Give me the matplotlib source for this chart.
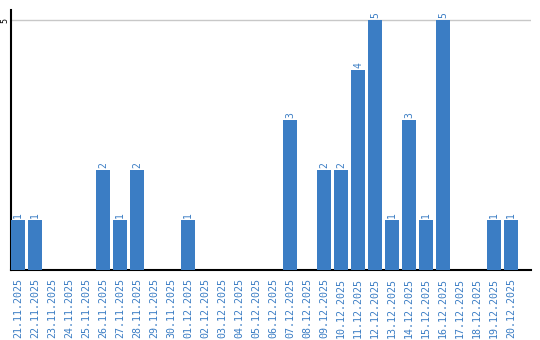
import matplotlib
matplotlib.use("Agg")
import matplotlib.pyplot as plt

dates = ["21.11.2025", "22.11.2025", "23.11.2025", "24.11.2025", "25.11.2025",
         "26.11.2025", "27.11.2025", "28.11.2025", "29.11.2025", "30.11.2025",
         "01.12.2025", "02.12.2025", "03.12.2025", "04.12.2025", "05.12.2025",
         "06.12.2025", "07.12.2025", "08.12.2025", "09.12.2025", "10.12.2025",
         "11.12.2025", "12.12.2025", "13.12.2025", "14.12.2025", "15.12.2025",
         "16.12.2025", "17.12.2025", "18.12.2025", "19.12.2025", "20.12.2025"]
values = [1, 1, 0, 0, 0, 2, 1, 2, 0, 0, 1, 0, 0, 0, 0, 0, 3, 0, 2, 2, 4, 5, 1, 3, 1, 5, 0, 0, 1, 1]

blue = "#3b7dc4"
fig = plt.figure(figsize=(5.4, 3.4), dpi=100)
ax = fig.add_axes([11/540, 70/340, 520/540, 260/340])
x = list(range(len(values)))
w = 14/17
ax.bar(x, values, width=w, align="edge", color=blue, zorder=3)
for xi, v in zip(x, values):
    if v > 0:
        ax.text(xi + w/2, v + 0.04, str(v), rotation=90, ha="center", va="bottom",
                color=blue, fontsize=7, family="DejaVu Sans Mono")
ax.set_xlim(0, 520/17)
ax.set_ylim(0, 5.2)
ax.set_yticks([5])
ax.set_yticklabels(["5"], rotation=90, va="center", fontsize=6, family="DejaVu Sans Mono")
ax.tick_params(axis="y", length=0, pad=1)
ax.yaxis.grid(True, color="#c8c8c8", linewidth=1, zorder=0)
ax.set_xticks([xi + w/2 for xi in x])
ax.set_xticklabels(dates, rotation=90, fontsize=7.2, color=blue, family="DejaVu Sans Mono")
ax.tick_params(axis="x", length=0, pad=6)
for s in ["top", "right"]:
    ax.spines[s].set_visible(False)
ax.spines["left"].set_linewidth(1.5)
ax.spines["bottom"].set_linewidth(1.5)
fig.savefig("out.png", dpi=100)
